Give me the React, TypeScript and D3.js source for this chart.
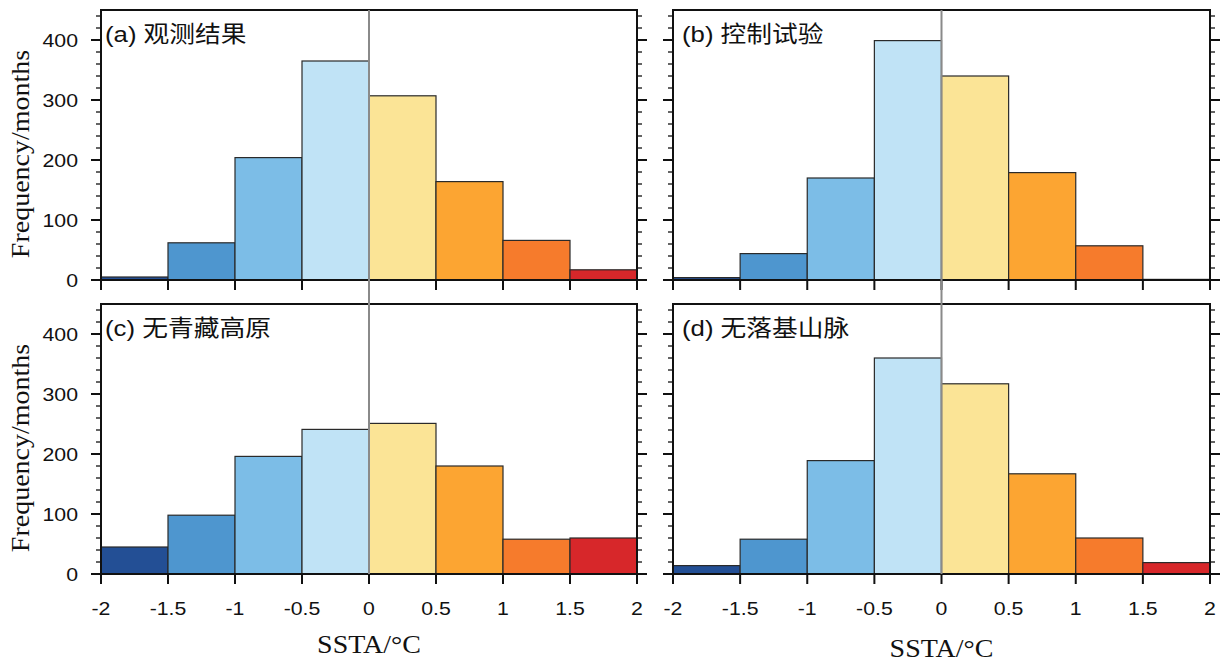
import React from 'react';
import * as d3 from 'd3';

// bin edges (SSTA, °C)
const binEdges = [-2, -1.5, -1, -0.5, 0, 0.5, 1, 1.5, 2];
const xTickLabels = ['-2', '-1.5', '-1', '-0.5', '0', '0.5', '1', '1.5', '2'];
const yTicks = [0, 100, 200, 300, 400];

// counts per bin
const obsCounts = [5, 62, 204, 365, 307, 164, 66, 17];
const ctrlCounts = [4, 44, 170, 399, 340, 179, 57, 1];
const noTibetCounts = [45, 98, 196, 241, 251, 180, 58, 60];
const noRockiesCounts = [14, 58, 189, 360, 317, 167, 60, 19];

const panelTitles = ['(a) 观测结果', '(b) 控制试验', '(c) 无青藏高原', '(d) 无落基山脉'];

const binColors = [
  '#234f95', '#4e96cf', '#7cbde7', '#c0e3f6',
  '#fbe496', '#fca532', '#f67b2c', '#d7272a',
];

const W = 1222;
const H = 663;
const cols = [
  { x0: 101, x1: 637 },
  { x0: 673, x1: 1210 },
];
const rows = [
  { y0: 10, y1: 280 },
  { y0: 304, y1: 574 },
];
const sx = 1.12; // source figure is slightly stretched horizontally
const sans = '"Liberation Sans", Arial, sans-serif';
const serif = '"Liberation Serif", "Times New Roman", serif';
const cjk = '"Liberation Sans", "Noto Sans CJK SC", sans-serif';

const Stretched = ({ x, y, anchor = 'start', size, family, children, rotate = 0 }) => (
  <text
    transform={`translate(${x},${y}) rotate(${rotate}) scale(${sx},1)`}
    textAnchor={anchor}
    fontSize={size}
    fontFamily={family}
    fill="#111"
  >
    {children}
  </text>
);

const Panel = ({ col, row, counts, title }) => {
  const { x0, x1 } = cols[col];
  const { y0, y1 } = rows[row];
  const x = d3.scaleLinear().domain([-2, 2]).range([x0, x1]);
  const y = d3.scaleLinear().domain([0, 450]).range([y1, y0]);
  const minor = d3.range(0, 450, 20);
  const showLeft = col === 0;
  const showBottom = row === 1;

  return (
    <g>
      {counts.map((c, i) => (
        <rect
          key={i}
          x={x(binEdges[i])}
          y={y(c)}
          width={x(binEdges[i + 1]) - x(binEdges[i])}
          height={y(0) - y(c)}
          fill={binColors[i]}
          stroke="#2a2a2a"
          strokeWidth={1.2}
        />
      ))}
      {/* frame */}
      <rect x={x0} y={y0} width={x1 - x0} height={y1 - y0} fill="none" stroke="#111" strokeWidth={2} />
      {/* y ticks, both sides outward */}
      {minor.map((v) => (
        <g key={v} stroke="#111" strokeWidth={1.3}>
          <line x1={x0} x2={x0 - 5} y1={y(v)} y2={y(v)} />
          <line x1={x1} x2={x1 + 5} y1={y(v)} y2={y(v)} />
        </g>
      ))}
      {yTicks.map((v) => (
        <g key={v} stroke="#111" strokeWidth={2}>
          <line x1={x0} x2={x0 - 10} y1={y(v)} y2={y(v)} />
          <line x1={x1} x2={x1 + 10} y1={y(v)} y2={y(v)} />
        </g>
      ))}
      {/* x ticks */}
      {binEdges.map((v) => (
        <line key={v} x1={x(v)} x2={x(v)} y1={y1} y2={y1 + 10} stroke="#111" strokeWidth={2} />
      ))}
      {showLeft &&
        yTicks.map((v) => (
          <Stretched key={v} x={78} y={y(v) + 7} anchor="end" size={19} family={sans}>
            {v}
          </Stretched>
        ))}
      {showBottom &&
        binEdges.map((v, i) => (
          <Stretched key={v} x={x(v)} y={615} anchor="middle" size={19} family={sans}>
            {xTickLabels[i]}
          </Stretched>
        ))}
      {showLeft && (
        <Stretched x={29} y={(y0 + y1) / 2 + 9} anchor="middle" size={25} family={serif} rotate={-90}>
          Frequency/months
        </Stretched>
      )}
      {showBottom && (
        <Stretched x={x(0)} y={col === 0 ? 653 : 657} anchor="middle" size={25} family={serif}>
          SSTA/°C
        </Stretched>
      )}
      <Stretched x={x0 + (col === 0 ? 4 : 9)} y={y0 + 32} size={23} family={cjk}>
        {title}
      </Stretched>
    </g>
  );
};

export default function App() {
  const all = [obsCounts, ctrlCounts, noTibetCounts, noRockiesCounts];
  return (
    <svg
      width={W}
      height={H}
      viewBox={`0 0 ${W} ${H}`}
      style={{ position: 'absolute', left: 0, top: 0, background: '#fff' }}
    >
      <rect width={W} height={H} fill="#fff" />
      {all.map((counts, i) => (
        <Panel key={i} col={i % 2} row={Math.floor(i / 2)} counts={counts} title={panelTitles[i]} />
      ))}
      {/* zero line running through both rows */}
      {cols.map((c, i) => {
        const x = d3.scaleLinear().domain([-2, 2]).range([c.x0, c.x1]);
        return (
          <line key={i} x1={x(0)} x2={x(0)} y1={rows[0].y0} y2={rows[1].y1} stroke="#8a8a8a" strokeWidth={2} />
        );
      })}
    </svg>
  );
}
